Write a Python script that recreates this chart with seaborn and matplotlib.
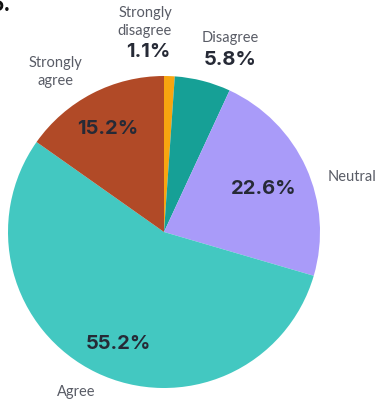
import matplotlib
matplotlib.use("Agg")
import matplotlib.pyplot as plt
import seaborn as sns

categories = ["Strongly\ndisagree", "Disagree", "Neutral", "Agree", "Strongly\nagree"]
values = [1.1, 5.8, 22.6, 55.2, 15.2]
colors = ["#F8A510", "#16A096", "#A99BF9", "#43C8C1", "#B14A27"]

sns.set_theme(style="white")
plt.rcParams["font.family"] = ["Lato", "DejaVu Sans"]

W, H = 375, 404
fig = plt.figure(figsize=(W / 100, H / 100), dpi=100)
ax = fig.add_axes([0, 0, 1, 1])
ax.set_xlim(0, W)
ax.set_ylim(0, H)
ax.axis("off")

cx, cy, r = 164, H - 232, 156
ax.pie(values, colors=colors, startangle=90, counterclock=False,
       center=(cx, cy), radius=r, wedgeprops=dict(linewidth=0))
ax.set_xlim(0, W)
ax.set_ylim(0, H)
ax.set_aspect("equal")

label_color = "#595c66"
pct_color = "#262a36"

# (name x, name y, pct x, pct y) in pixel coordinates from top-left
layout = [
    (145, 22, 148, 52),
    (230, 38, 230, 60),
    (352, 177, 264, 189),
    (76, 392, 118, 344),
    (55, 72, 108, 129),
]

for cat, val, (lx, ly, px, py) in zip(categories, values, layout):
    ax.text(lx, H - ly, cat, ha="center", va="center", fontsize=10.5,
            color=label_color, linespacing=1.35)
    ax.text(px, H - py, f"{val:.1f}%", ha="center", va="center",
            fontsize=14.5, fontweight="bold", color=pct_color,
            family=["Inter", "DejaVu Sans"])

ax.text(-9, H - 11, "5.", ha="left", va="baseline", fontsize=15,
        fontweight="bold", color="#111111", family=["Inter", "DejaVu Sans"])

fig.savefig("out.png", dpi=100)
